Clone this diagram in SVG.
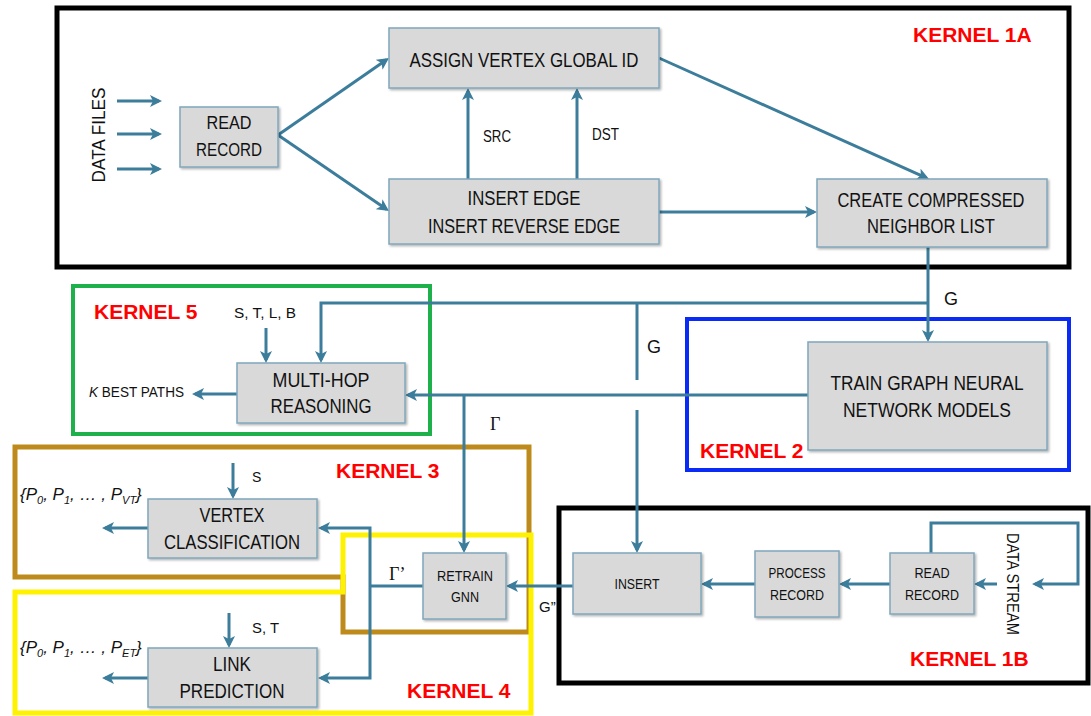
<svg xmlns="http://www.w3.org/2000/svg" width="1091" height="716" viewBox="0 0 1091 716">
<defs>
<marker id="ah" viewBox="0 0 12 12" markerUnits="userSpaceOnUse" markerWidth="12" markerHeight="12" refX="9" refY="6" orient="auto-start-reverse">
<path d="M0,0 L12,6 L0,12 L3,6 z" fill="#3C7D9B"/>
</marker>
<filter id="sh" x="-10%" y="-10%" width="130%" height="130%">
<feDropShadow dx="1.5" dy="1.5" stdDeviation="1" flood-color="#000" flood-opacity="0.3"/>
</filter>
</defs>
<style>
.bx{fill:#D9D9D9;stroke:#7FA7BA;stroke-width:1.5;filter:url(#sh)}
.t{font-family:"Liberation Sans",Arial,sans-serif;fill:#111;text-anchor:middle}
.l{font-family:"Liberation Sans",Arial,sans-serif;fill:#111}
.g{font-family:"Liberation Serif","Times New Roman",serif;fill:#111}
.k{font-family:"Liberation Sans",Arial,sans-serif;font-weight:bold;fill:#FF0000;font-size:21px}
.c{fill:none;stroke:#3C7D9B;stroke-width:3}
.a{marker-end:url(#ah)}
.brd{fill:none;stroke-linejoin:miter}
</style>
<rect width="1091" height="716" fill="#FFFFFF"/>

<g id="borders">
<rect id="kernel1a" class="brd" x="57" y="8" width="1012" height="259" stroke="#000" stroke-width="5"/>
<rect id="kernel5" class="brd" x="73" y="286" width="357" height="148" stroke="#1DB04B" stroke-width="4"/>
<rect id="kernel2" class="brd" x="687" y="319" width="382" height="151" stroke="#0A2BF5" stroke-width="4"/>
<polygon id="kernel3" class="brd" points="15,447 529,447 529,632 343,632 343,577 15,577" stroke="#BE8A1C" stroke-width="5"/>
<polygon id="kernel4" class="brd" points="343,535 531,535 531,713 15,713 15,592 343,592" stroke="#FFF200" stroke-width="5"/>
<rect id="kernel1b" class="brd" x="559" y="508" width="529" height="175" stroke="#000" stroke-width="5"/>
</g>

<g id="connectors">
<line class="c a" x1="117" y1="101" x2="159" y2="101"/>
<line class="c a" x1="117" y1="134" x2="159" y2="134"/>
<line class="c a" x1="117" y1="169" x2="159" y2="169"/>
<line class="c a" x1="278" y1="135" x2="386.5" y2="59.7"/>
<line class="c a" x1="278" y1="135" x2="386.5" y2="209.3"/>
<line class="c a" x1="468" y1="179" x2="468" y2="91"/>
<line class="c a" x1="577" y1="179" x2="577" y2="91"/>
<line class="c a" x1="659" y1="58" x2="926.3" y2="177.8"/>
<line class="c a" x1="659" y1="212" x2="814" y2="212"/>
<line class="c a" x1="928" y1="247" x2="928" y2="339"/>
<polyline class="c a" points="928,303 321,303 321,360"/>
<line class="c" x1="637" y1="303" x2="637" y2="380"/>
<line class="c a" x1="637" y1="410" x2="637" y2="550"/>
<line class="c a" x1="808" y1="395" x2="408" y2="395"/>
<line class="c a" x1="464" y1="395" x2="464" y2="550"/>
<line class="c a" x1="266" y1="328" x2="266" y2="360"/>
<line class="c a" x1="237" y1="394" x2="195" y2="394"/>
<line class="c a" x1="233" y1="463" x2="233" y2="496"/>
<line class="c a" x1="148" y1="528" x2="105" y2="528"/>
<line class="c" x1="423" y1="586" x2="370" y2="586"/>
<path class="c a" d="M321,528 H370 V678 H321" style="marker-start:url(#ah)"/>
<line class="c a" x1="229" y1="613" x2="229" y2="645"/>
<line class="c a" x1="148" y1="678" x2="105" y2="678"/>
<line class="c a" x1="573" y1="586" x2="509" y2="586"/>
<line class="c a" x1="890" y1="584" x2="842" y2="584"/>
<line class="c a" x1="755" y1="584" x2="704" y2="584"/>
<line class="c a" x1="997" y1="584" x2="977" y2="584"/>
<polyline class="c a" points="931,553 931,523 1078,523 1078,584 1035,584"/>
</g>

<g id="node-read-record-1a">
<rect class="bx" x="180" y="107" width="98" height="60"/>
<text class="t" x="229" y="129" font-size="18" textLength="45" lengthAdjust="spacingAndGlyphs">READ</text>
<text class="t" x="229" y="156" font-size="18" textLength="66" lengthAdjust="spacingAndGlyphs">RECORD</text>
</g>
<g id="node-assign">
<rect class="bx" x="389" y="28" width="270" height="60"/>
<text class="t" x="524" y="67" font-size="21" textLength="229" lengthAdjust="spacingAndGlyphs">ASSIGN VERTEX GLOBAL ID</text>
</g>
<g id="node-insert-edge">
<rect class="bx" x="389" y="179" width="270" height="65"/>
<text class="t" x="524" y="205" font-size="21" textLength="113" lengthAdjust="spacingAndGlyphs">INSERT EDGE</text>
<text class="t" x="524" y="233" font-size="21" textLength="192" lengthAdjust="spacingAndGlyphs">INSERT REVERSE EDGE</text>
</g>
<g id="node-create">
<rect class="bx" x="817" y="179" width="230" height="68"/>
<text class="t" x="931" y="207" font-size="20" textLength="187" lengthAdjust="spacingAndGlyphs">CREATE COMPRESSED</text>
<text class="t" x="931" y="233" font-size="20" textLength="128" lengthAdjust="spacingAndGlyphs">NEIGHBOR LIST</text>
</g>
<g id="node-train">
<rect class="bx" x="808" y="342" width="239" height="108"/>
<text class="t" x="927" y="390" font-size="20" textLength="193" lengthAdjust="spacingAndGlyphs">TRAIN GRAPH NEURAL</text>
<text class="t" x="927" y="417" font-size="20" textLength="168" lengthAdjust="spacingAndGlyphs">NETWORK MODELS</text>
</g>
<g id="node-multihop">
<rect class="bx" x="237" y="363" width="168" height="60"/>
<text class="t" x="321" y="387" font-size="20" textLength="97" lengthAdjust="spacingAndGlyphs">MULTI-HOP</text>
<text class="t" x="321" y="413" font-size="20" textLength="101" lengthAdjust="spacingAndGlyphs">REASONING</text>
</g>
<g id="node-vertex">
<rect class="bx" x="148" y="499" width="169" height="59"/>
<text class="t" x="232" y="522" font-size="21" textLength="65" lengthAdjust="spacingAndGlyphs">VERTEX</text>
<text class="t" x="232" y="549" font-size="21" textLength="136" lengthAdjust="spacingAndGlyphs">CLASSIFICATION</text>
</g>
<g id="node-link">
<rect class="bx" x="148" y="648" width="169" height="59"/>
<text class="t" x="232" y="671" font-size="21" textLength="38" lengthAdjust="spacingAndGlyphs">LINK</text>
<text class="t" x="232" y="698" font-size="21" textLength="105" lengthAdjust="spacingAndGlyphs">PREDICTION</text>
</g>
<g id="node-retrain">
<rect class="bx" x="423" y="553" width="83" height="66"/>
<text class="t" x="465" y="581" font-size="15" textLength="56" lengthAdjust="spacingAndGlyphs">RETRAIN</text>
<text class="t" x="465" y="602" font-size="15" textLength="28" lengthAdjust="spacingAndGlyphs">GNN</text>
</g>
<g id="node-insert-1b">
<rect class="bx" x="573" y="553" width="128" height="61"/>
<text class="t" x="637" y="589" font-size="15" textLength="45" lengthAdjust="spacingAndGlyphs">INSERT</text>
</g>
<g id="node-process">
<rect class="bx" x="755" y="551" width="84" height="66"/>
<text class="t" x="797" y="578" font-size="15" textLength="57" lengthAdjust="spacingAndGlyphs">PROCESS</text>
<text class="t" x="797" y="600" font-size="15" textLength="54" lengthAdjust="spacingAndGlyphs">RECORD</text>
</g>
<g id="node-read-record-1b">
<rect class="bx" x="890" y="553" width="84" height="61"/>
<text class="t" x="932" y="578" font-size="15" textLength="35" lengthAdjust="spacingAndGlyphs">READ</text>
<text class="t" x="932" y="600" font-size="15" textLength="54" lengthAdjust="spacingAndGlyphs">RECORD</text>
</g>

<g id="labels">
<text class="k" x="913" y="42">KERNEL 1A</text>
<text class="k" x="94" y="319">KERNEL 5</text>
<text class="k" x="700" y="458">KERNEL 2</text>
<text class="k" x="336" y="478">KERNEL 3</text>
<text class="k" x="407" y="698">KERNEL 4</text>
<text class="k" x="910" y="666">KERNEL 1B</text>

<text class="t" transform="translate(105,135) rotate(-90)" font-size="18" textLength="95" lengthAdjust="spacingAndGlyphs">DATA FILES</text>
<text class="t" transform="translate(1007,584) rotate(90)" font-size="17" textLength="102" lengthAdjust="spacingAndGlyphs">DATA STREAM</text>

<text class="l" x="483" y="142" font-size="16" textLength="28" lengthAdjust="spacingAndGlyphs">SRC</text>
<text class="l" x="592" y="140" font-size="16" textLength="27" lengthAdjust="spacingAndGlyphs">DST</text>
<text class="l" x="944" y="305" font-size="18">G</text>
<text class="l" x="647" y="353" font-size="18">G</text>
<text class="l" x="234" y="318" font-size="14" textLength="62" lengthAdjust="spacingAndGlyphs">S, T, L, B</text>
<text class="l" x="89" y="397" font-size="15" textLength="95" lengthAdjust="spacingAndGlyphs"><tspan font-style="italic">K</tspan> BEST PATHS</text>
<text class="g" x="490" y="430" font-size="18">Γ</text>
<text class="l" x="252" y="482" font-size="14">S</text>
<text class="l" x="252" y="633" font-size="14" textLength="27" lengthAdjust="spacingAndGlyphs">S, T</text>
<text class="g" x="389" y="580" font-size="18">Γ’</text>
<text class="l" x="539" y="612" font-size="15">G”</text>
<text class="l" x="20" y="500" font-size="17" font-style="italic">{P<tspan font-size="11" dy="4">0</tspan><tspan dy="-4">, P</tspan><tspan font-size="11" dy="4">1</tspan><tspan dy="-4">, … , P</tspan><tspan font-size="11" dy="4">VT</tspan><tspan dy="-4">}</tspan></text>
<text class="l" x="20" y="653" font-size="17" font-style="italic">{P<tspan font-size="11" dy="4">0</tspan><tspan dy="-4">, P</tspan><tspan font-size="11" dy="4">1</tspan><tspan dy="-4">, … , P</tspan><tspan font-size="11" dy="4">ET</tspan><tspan dy="-4">}</tspan></text>
</g>
</svg>
